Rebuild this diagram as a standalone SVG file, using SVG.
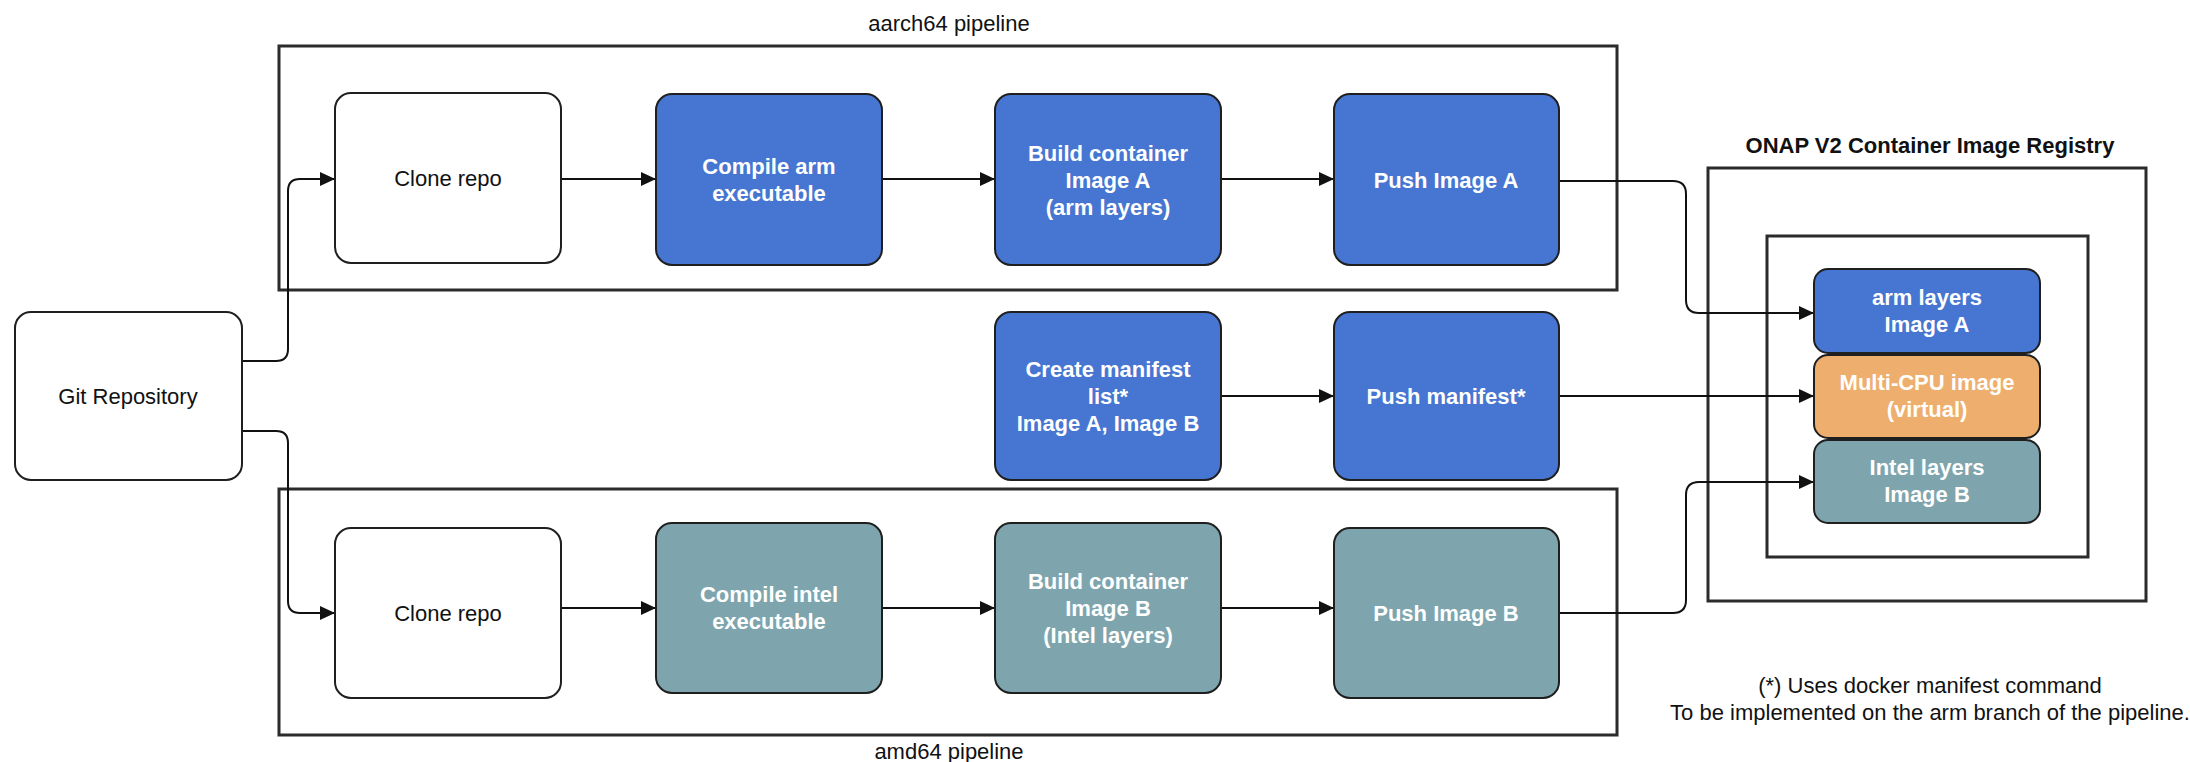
<svg xmlns="http://www.w3.org/2000/svg" width="2190" height="762" viewBox="0 0 2190 762">
<style>
.bg{fill:#ffffff}
.frame{fill:none;stroke:#2b2b2b;stroke-width:3}
.node{stroke:#1f1f1f;stroke-width:2}
.white{fill:#ffffff}
.blue{fill:#4676d1}
.teal{fill:#7ea5ad}
.orange{fill:#eeae6e}
.t{font-family:"Liberation Sans",Arial,sans-serif;font-size:22px;text-anchor:middle}
.dark{fill:#111111}
.lt{fill:#ffffff;font-weight:bold}
.bold{font-weight:bold}
.conn{fill:none;stroke:#111111;stroke-width:2}
</style>
<defs>
<marker id="arr" markerUnits="userSpaceOnUse" markerWidth="16" markerHeight="14" refX="15" refY="7" orient="auto">
<path d="M0,0 L15,7 L0,14 Z" fill="#111111"/>
</marker>
</defs>
<rect class="bg" x="0" y="0" width="2190" height="762"/>

<g id="aarch64-pipeline">
<rect class="frame" x="279" y="46" width="1338" height="244"/>
<text class="t dark" x="949" y="31">aarch64 pipeline</text>
</g>
<g id="amd64-pipeline">
<rect class="frame" x="279" y="489" width="1338" height="246"/>
<text class="t dark" x="949" y="759">amd64 pipeline</text>
</g>
<g id="registry">
<rect class="frame" x="1708" y="168" width="438" height="433"/>
<text class="t dark bold" x="1930" y="153">ONAP V2 Container Image Registry</text>
</g>
<g id="registry-inner">
<rect class="frame" x="1767" y="236" width="321" height="321"/>
</g>

<g id="connectors">
<path class="conn" d="M242,361 H276 Q288,361 288,349 V191 Q288,179 300,179 H335" marker-end="url(#arr)"/>
<path class="conn" d="M242,431 H276 Q288,431 288,443 V601 Q288,613 300,613 H335" marker-end="url(#arr)"/>
<path class="conn" d="M561,179 H656" marker-end="url(#arr)"/>
<path class="conn" d="M882,179 H995" marker-end="url(#arr)"/>
<path class="conn" d="M1221,179 H1334" marker-end="url(#arr)"/>
<path class="conn" d="M1559,181 H1673 Q1686,181 1686,194 V300 Q1686,313 1699,313 H1814" marker-end="url(#arr)"/>
<path class="conn" d="M1221,396 H1334" marker-end="url(#arr)"/>
<path class="conn" d="M1559,396 H1814" marker-end="url(#arr)"/>
<path class="conn" d="M561,608 H656" marker-end="url(#arr)"/>
<path class="conn" d="M882,608 H995" marker-end="url(#arr)"/>
<path class="conn" d="M1221,608 H1334" marker-end="url(#arr)"/>
<path class="conn" d="M1559,613 H1673 Q1686,613 1686,600 V495 Q1686,482 1699,482 H1814" marker-end="url(#arr)"/>
</g>

<g id="git-repository">
<rect class="node white" x="15" y="312" width="227" height="168" rx="16"/>
<text class="t dark" x="128" y="404">Git Repository</text>
</g>
<g id="clone-repo-arm">
<rect class="node white" x="335" y="93" width="226" height="170" rx="16"/>
<text class="t dark" x="448" y="186">Clone repo</text>
</g>
<g id="compile-arm">
<rect class="node blue" x="656" y="94" width="226" height="171" rx="16"/>
<text class="t lt" x="769" y="174">Compile arm</text>
<text class="t lt" x="769" y="201">executable</text>
</g>
<g id="build-image-a">
<rect class="node blue" x="995" y="94" width="226" height="171" rx="16"/>
<text class="t lt" x="1108" y="161">Build container</text>
<text class="t lt" x="1108" y="188">Image A</text>
<text class="t lt" x="1108" y="215">(arm layers)</text>
</g>
<g id="push-image-a">
<rect class="node blue" x="1334" y="94" width="225" height="171" rx="16"/>
<text class="t lt" x="1446" y="188">Push Image A</text>
</g>
<g id="create-manifest">
<rect class="node blue" x="995" y="312" width="226" height="168" rx="16"/>
<text class="t lt" x="1108" y="377">Create manifest</text>
<text class="t lt" x="1108" y="404">list*</text>
<text class="t lt" x="1108" y="431">Image A, Image B</text>
</g>
<g id="push-manifest">
<rect class="node blue" x="1334" y="312" width="225" height="168" rx="16"/>
<text class="t lt" x="1446" y="404">Push manifest*</text>
</g>
<g id="clone-repo-intel">
<rect class="node white" x="335" y="528" width="226" height="170" rx="16"/>
<text class="t dark" x="448" y="621">Clone repo</text>
</g>
<g id="compile-intel">
<rect class="node teal" x="656" y="523" width="226" height="170" rx="16"/>
<text class="t lt" x="769" y="602">Compile intel</text>
<text class="t lt" x="769" y="629">executable</text>
</g>
<g id="build-image-b">
<rect class="node teal" x="995" y="523" width="226" height="170" rx="16"/>
<text class="t lt" x="1108" y="589">Build container</text>
<text class="t lt" x="1108" y="616">Image B</text>
<text class="t lt" x="1108" y="643">(Intel layers)</text>
</g>
<g id="push-image-b">
<rect class="node teal" x="1334" y="528" width="225" height="170" rx="16"/>
<text class="t lt" x="1446" y="621">Push Image B</text>
</g>
<g id="arm-layers">
<rect class="node blue" x="1814" y="269" width="226" height="84" rx="14"/>
<text class="t lt" x="1927" y="305">arm layers</text>
<text class="t lt" x="1927" y="332">Image A</text>
</g>
<g id="multi-cpu-image">
<rect class="node orange" x="1814" y="355" width="226" height="83" rx="14"/>
<text class="t lt" x="1927" y="390">Multi-CPU image</text>
<text class="t lt" x="1927" y="417">(virtual)</text>
</g>
<g id="intel-layers">
<rect class="node teal" x="1814" y="440" width="226" height="83" rx="14"/>
<text class="t lt" x="1927" y="475">Intel layers</text>
<text class="t lt" x="1927" y="502">Image B</text>
</g>

<g id="footnote">
<text class="t dark" x="1930" y="693">(*) Uses docker manifest command</text>
<text class="t dark" x="1930" y="720">To be implemented on the arm branch of the pipeline.</text>
</g>
</svg>
